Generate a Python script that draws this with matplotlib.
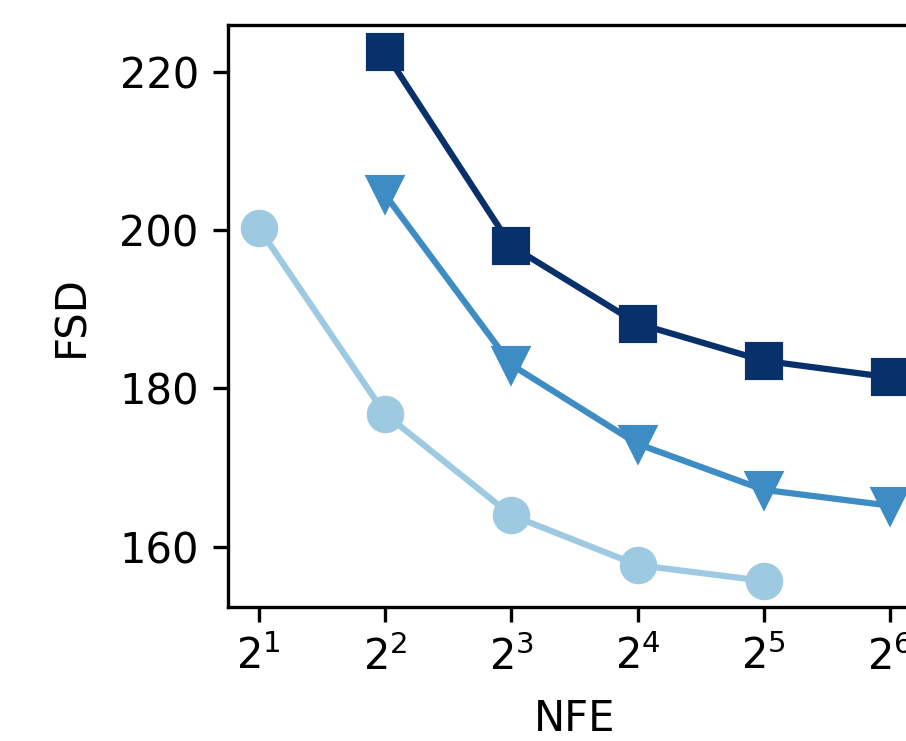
import matplotlib
matplotlib.use('Agg')
import matplotlib.pyplot as plt

# FSD vs NFE for three samplers
nfe_light = [2, 4, 8, 16, 32]
fsd_light = [200.3, 176.8, 164.0, 157.7, 155.7]

nfe_mid = [4, 8, 16, 32, 64]
fsd_mid = [204.5, 183.0, 173.0, 167.2, 165.2]

nfe_dark = [4, 8, 16, 32, 64]
fsd_dark = [222.5, 198.0, 188.2, 183.5, 181.4]

fig = plt.figure(figsize=(906 / 300, 741 / 300), dpi=300)
# axes runs a little past the right edge of the figure, as in the reference crop
ax = fig.add_axes([0.2517, 0.1808, 0.7656, 0.7855])

ax.plot(nfe_light, fsd_light, marker='o', color='#9ecae1', lw=1.5, ms=8)
ax.plot(nfe_mid, fsd_mid, marker='v', color='#3d8dc4', lw=1.5, ms=8)
ax.plot(nfe_dark, fsd_dark, marker='s', color='#08306b', lw=1.5, ms=8)

ax.set_xscale('log', base=2)
ax.set_xticks([2, 4, 8, 16, 32, 64])
ax.set_xlim(2 ** 0.758, 2 ** 6.25)
ax.set_ylim(152.4, 225.9)
ax.set_yticks([160, 180, 200, 220])

ax.set_xlabel('NFE', fontsize=10, labelpad=4.6)
ax.set_ylabel('FSD', fontsize=10, labelpad=6.4)
ax.tick_params(labelsize=10)

fig.savefig('out.png', dpi=300)
